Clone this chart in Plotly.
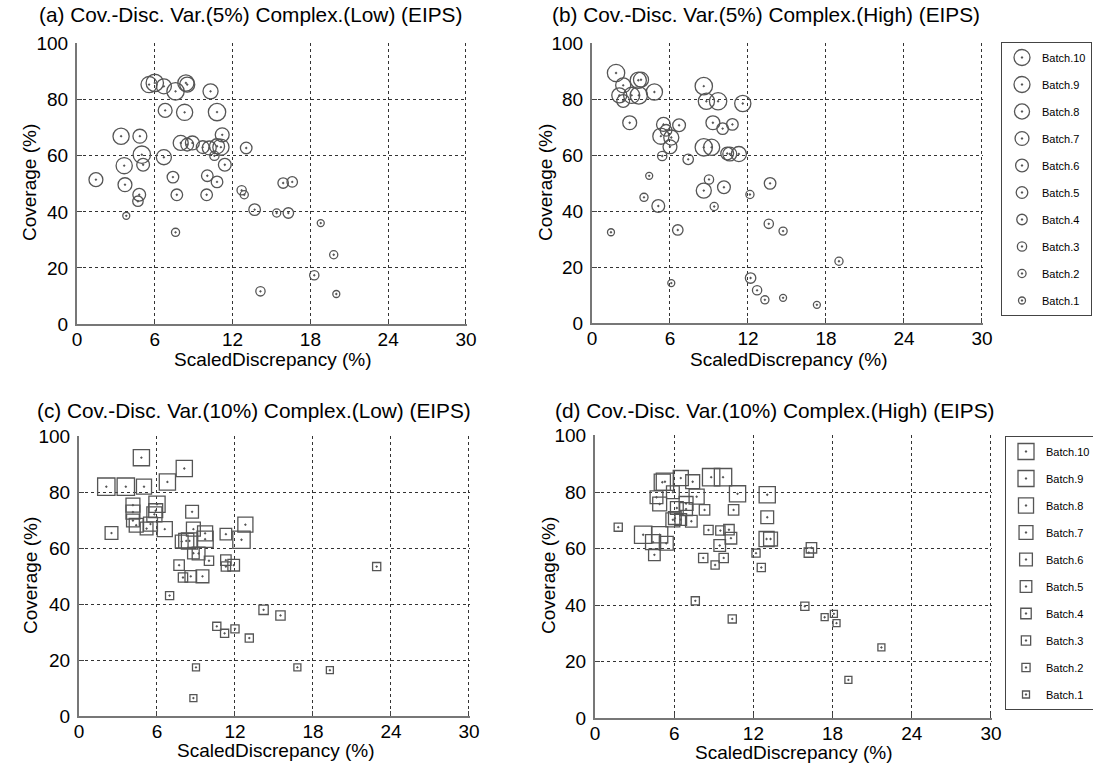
import plotly.graph_objects as go

# ---------------- data ----------------
batches = list(range(1, 11))
batch_labels = ["Batch.%d" % b for b in batches]

titles = [
    "(a) Cov.-Disc. Var.(5%) Complex.(Low) (EIPS)",
    "(b) Cov.-Disc. Var.(5%) Complex.(High) (EIPS)",
    "(c) Cov.-Disc. Var.(10%) Complex.(Low) (EIPS)",
    "(d) Cov.-Disc. Var.(10%) Complex.(High) (EIPS)",
]
x_title = "ScaledDiscrepancy (%)"
y_title = "Coverage (%)"
x_ticks = [0, 6, 12, 18, 24, 30]
y_ticks = [0, 20, 40, 60, 80, 100]

a_x = [5.56, 6.0, 6.7, 7.6, 8.4, 8.5, 10.3, 6.8, 8.3, 10.8, 3.4, 4.85, 11.2, 8.0, 8.5, 8.9, 9.7, 10.2, 10.8, 11.1,
       13.05, 5.0, 6.7, 10.6, 3.64, 5.1, 11.4, 1.46, 3.7, 7.4, 10.05, 10.8, 4.8, 4.7, 7.7, 10.0, 12.7, 12.9, 15.9, 16.6,
       13.7, 15.4, 16.3, 3.8, 7.6, 18.8, 19.8, 18.3, 14.15, 20.0]
a_y = [85.4, 86, 84.8, 83, 86, 85.4, 83, 76.2, 75.5, 75.6, 67, 67, 67.5, 64.6, 64, 64.6, 63.1, 62.8, 63.4, 63.1,
       62.8, 60.4, 59.5, 60, 56.5, 56.8, 56.8, 51.5, 49.7, 52.4, 52.9, 50.7, 46.1, 43.8, 46.1, 46.1, 47.7, 46.1, 50.3, 50.7,
       40.8, 39.6, 39.6, 38.6, 32.7, 36, 24.7, 17.4, 11.65, 10.7]
a_b = [9, 10, 8, 10, 9, 8, 8, 7, 9, 10, 9, 7, 7, 8, 6, 7, 6, 7, 8, 9,
       5, 10, 8, 3, 9, 6, 6, 7, 7, 5, 5, 5, 6, 4, 5, 5, 3, 2, 4, 4,
       5, 2, 4, 1, 2, 1, 2, 3, 3, 1]

b_x = [1.85, 2.4, 2.1, 2.4, 3.05, 3.56, 3.77, 3.6, 4.8, 2.9, 5.5, 5.3, 5.7, 6.1, 6.0, 6.7, 5.4, 7.4, 4.4, 4.0,
       5.1, 1.46, 6.6, 6.1, 8.6, 8.8, 9.7, 11.6, 9.3, 10.05, 10.8, 8.6, 9.2, 10.4, 10.6, 11.3, 9.0, 8.6, 10.15, 9.4,
       12.15, 13.7, 13.6, 14.7, 19.0, 12.2, 12.7, 13.3, 14.7, 17.3]
b_y = [89.5, 85.1, 81.5, 79.5, 81.5, 86.9, 87.1, 81.5, 82.7, 71.7, 71.1, 66.9, 69, 66.4, 63.1, 70.8, 59.8, 58.6, 52.7, 45,
       41.9, 32.5, 33.3, 14.3, 84.8, 79.4, 79.4, 78.6, 71.7, 69.6, 71.1, 62.9, 62.9, 60.7, 60.5, 60.5, 51.4, 47.4, 48.6, 41.7,
       46, 50, 35.5, 32.9, 22.1, 16.1, 11.7, 8.3, 9.0, 6.5]
b_b = [10, 8, 8, 6, 9, 9, 8, 10, 9, 7, 7, 9, 5, 8, 7, 6, 3, 4, 1, 2,
       6, 1, 4, 1, 10, 9, 10, 9, 7, 5, 5, 10, 9, 6, 7, 8, 3, 8, 6, 2,
       2, 5, 3, 2, 2, 4, 3, 2, 1, 1]

c_x = [4.8, 8.1, 2.1, 3.6, 5.0, 6.8, 4.15, 4.15, 4.15, 6.0, 5.9, 5.8, 2.5, 4.4, 5.2, 5.5, 6.6, 8.7, 8.8, 9.7,
       9.7, 11.3, 12.8, 12.5, 7.9, 8.25, 8.5, 8.8, 9.2, 10.0, 11.3, 11.3, 11.9, 7.7, 8.0, 8.6, 9.5, 6.97, 14.2, 15.5,
       10.6, 11.2, 12.0, 13.1, 9.0, 8.8, 16.8, 19.3, 22.9]
c_y = [92.5, 88.6, 82.1, 82.1, 82.1, 83.8, 75.5, 73, 70, 75.8, 73.5, 72.2, 65.5, 68.3, 67.1, 68.7, 66.9, 73.1, 66.9, 65.4,
       63.3, 65.1, 68.5, 63.1, 62.5, 62.7, 62.7, 58.3, 58.2, 55.6, 55.8, 53.5, 54, 54, 49.6, 50, 50, 43.1, 38, 36,
       32.1, 29.6, 31.2, 27.9, 17.4, 6.4, 17.4, 16.4, 53.5]
c_b = [9, 9, 10, 10, 8, 9, 7, 7, 6, 9, 7, 8, 6, 7, 6, 7, 8, 6, 7, 8,
       9, 5, 8, 10, 6, 8, 9, 5, 6, 3, 4, 3, 5, 4, 3, 5, 6, 2, 3, 3,
       2, 2, 2, 2, 1, 1, 1, 1, 2]

d_x = [1.76, 3.65, 4.9, 4.4, 5.4, 4.5, 4.66, 4.9, 5.3, 5.1, 5.9, 6.5, 7.4, 7.7, 6.2, 6.9, 6.9, 6.05, 6.5, 5.9,
       7.3, 8.3, 8.8, 9.7, 10.8, 10.5, 8.6, 9.5, 10.15, 10.3, 9.45, 8.2, 9.75, 9.1, 12.2, 12.6, 13.05, 13.05, 13.0, 13.3,
       7.6, 10.4, 15.9, 16.4, 16.2, 17.4, 18.1, 18.3, 19.2, 21.7]
d_y = [67.6, 64.9, 64.9, 62.3, 61.9, 57.8, 78.2, 75.8, 83.7, 83.5, 80, 85, 83.7, 78.4, 74.4, 76, 74, 70.8, 70.3, 70.2,
       69.7, 73.7, 85.3, 85.3, 79.4, 73.7, 66.6, 66.4, 66.7, 63.7, 61.1, 56.7, 56.7, 54.2, 58.4, 53.3, 79.1, 71.1, 63.4, 63.4,
       41.5, 35.1, 39.6, 60.3, 58.6, 35.7, 36.9, 33.6, 13.5, 25]
d_b = [2, 10, 9, 8, 7, 5, 6, 7, 10, 9, 6, 8, 7, 8, 6, 7, 6, 6, 5, 7,
       5, 4, 10, 10, 9, 4, 3, 3, 4, 5, 5, 3, 3, 2, 2, 2, 9, 6, 8, 7,
       2, 2, 2, 4, 3, 1, 1, 1, 1, 1]

# ---------------- style / layout ----------------
FONT = "Liberation Sans, Arial, sans-serif"
W, H = 1093, 772
# plot-area pixel boxes (left, right, top, bottom)
boxes = [(77, 467, 43, 324), (592, 983, 43, 323), (79, 470, 436, 716), (595, 992, 435, 718)]
title_pos = [(37, 15), (550, 15), (35, 410), (553, 410)]
ytitle_pos = [(30, 183), (546, 183), (30, 576), (548, 576)]
xtitle_pos = [(272, 359), (788, 359), (275, 750), (793, 752)]
panels = [(a_x, a_y, a_b), (b_x, b_y, b_b), (c_x, c_y, c_b), (d_x, d_y, d_b)]
symbols = ["circle-open-dot", "circle-open-dot", "square-open-dot", "square-open-dot"]
legend_of = [None, "legend", None, "legend2"]
MARK_COLOR = "#555555"


def msize(b):
    return 7 + (b - 1) * 1.15


fig = go.Figure()
for i, (xs, ys, bs) in enumerate(panels):
    xa = "x" if i == 0 else "x%d" % (i + 1)
    ya = "y" if i == 0 else "y%d" % (i + 1)
    for b in reversed(batches):
        px = [x for x, bb in zip(xs, bs) if bb == b]
        py = [y for y, bb in zip(ys, bs) if bb == b]
        show = legend_of[i] is not None
        fig.add_trace(go.Scatter(
            x=px, y=py, mode="markers", xaxis=xa, yaxis=ya,
            name=batch_labels[b - 1],
            legendgroup="g%d_%d" % (i, b),
            showlegend=show,
            legend=legend_of[i] if show else "legend",
            marker=dict(symbol=symbols[i], size=msize(b), color=MARK_COLOR,
                        line=dict(color=MARK_COLOR, width=1.3)),
        ))

layout = dict(
    width=W, height=H, margin=dict(l=0, r=0, t=0, b=0, autoexpand=False),
    paper_bgcolor="white", plot_bgcolor="white",
    font=dict(family=FONT, size=19, color="black"),
    annotations=[],
)
for i, (l, r, t, bt) in enumerate(boxes):
    xk = "xaxis" if i == 0 else "xaxis%d" % (i + 1)
    yk = "yaxis" if i == 0 else "yaxis%d" % (i + 1)
    ya = "y" if i == 0 else "y%d" % (i + 1)
    xa = "x" if i == 0 else "x%d" % (i + 1)
    layout[xk] = dict(
        domain=[l / W, r / W], anchor=ya, range=[0, 30.08], tickvals=x_ticks,
        showgrid=True, gridcolor="#333333", griddash="dot", gridwidth=1,
        showline=True, linecolor="#777777", linewidth=2, ticks="inside", ticklen=5,
        tickcolor="#444444", zeroline=False, tickfont=dict(size=19), ticklabelstandoff=-3,
    )
    layout[yk] = dict(
        domain=[1 - bt / H, 1 - t / H], anchor=xa, range=[0, 100.25], tickvals=y_ticks,
        showgrid=True, gridcolor="#333333", griddash="dot", gridwidth=1,
        showline=True, linecolor="#777777", linewidth=2, ticks="inside", ticklen=5,
        tickcolor="#444444", zeroline=False, tickfont=dict(size=19), ticklabelstandoff=3,
    )
    tx, ty = title_pos[i]
    layout["annotations"].append(dict(
        text=titles[i], x=tx / W, y=1 - ty / H, xref="paper", yref="paper",
        xanchor="left", yanchor="middle", showarrow=False, font=dict(size=20.8),
    ))
    yx, yy = ytitle_pos[i]
    layout["annotations"].append(dict(
        text=y_title, x=yx / W, y=1 - yy / H, xref="paper", yref="paper", textangle=-90,
        xanchor="center", yanchor="middle", showarrow=False, font=dict(size=19),
    ))
    xx, xy = xtitle_pos[i]
    layout["annotations"].append(dict(
        text=x_title, x=xx / W, y=1 - xy / H, xref="paper", yref="paper",
        xanchor="center", yanchor="middle", showarrow=False, font=dict(size=19),
    ))

legend_common = dict(
    xanchor="left", yanchor="top", bgcolor="white", bordercolor="#444444", borderwidth=1,
    font=dict(size=11, family=FONT), tracegroupgap=8, itemwidth=30,
)
layout["legend"] = dict(x=1001 / W, y=1 - 42 / H, **legend_common)
layout["legend2"] = dict(x=1005 / W, y=1 - 436 / H, **legend_common)

fig.update_layout(**layout)
fig.write_html("out.html")
